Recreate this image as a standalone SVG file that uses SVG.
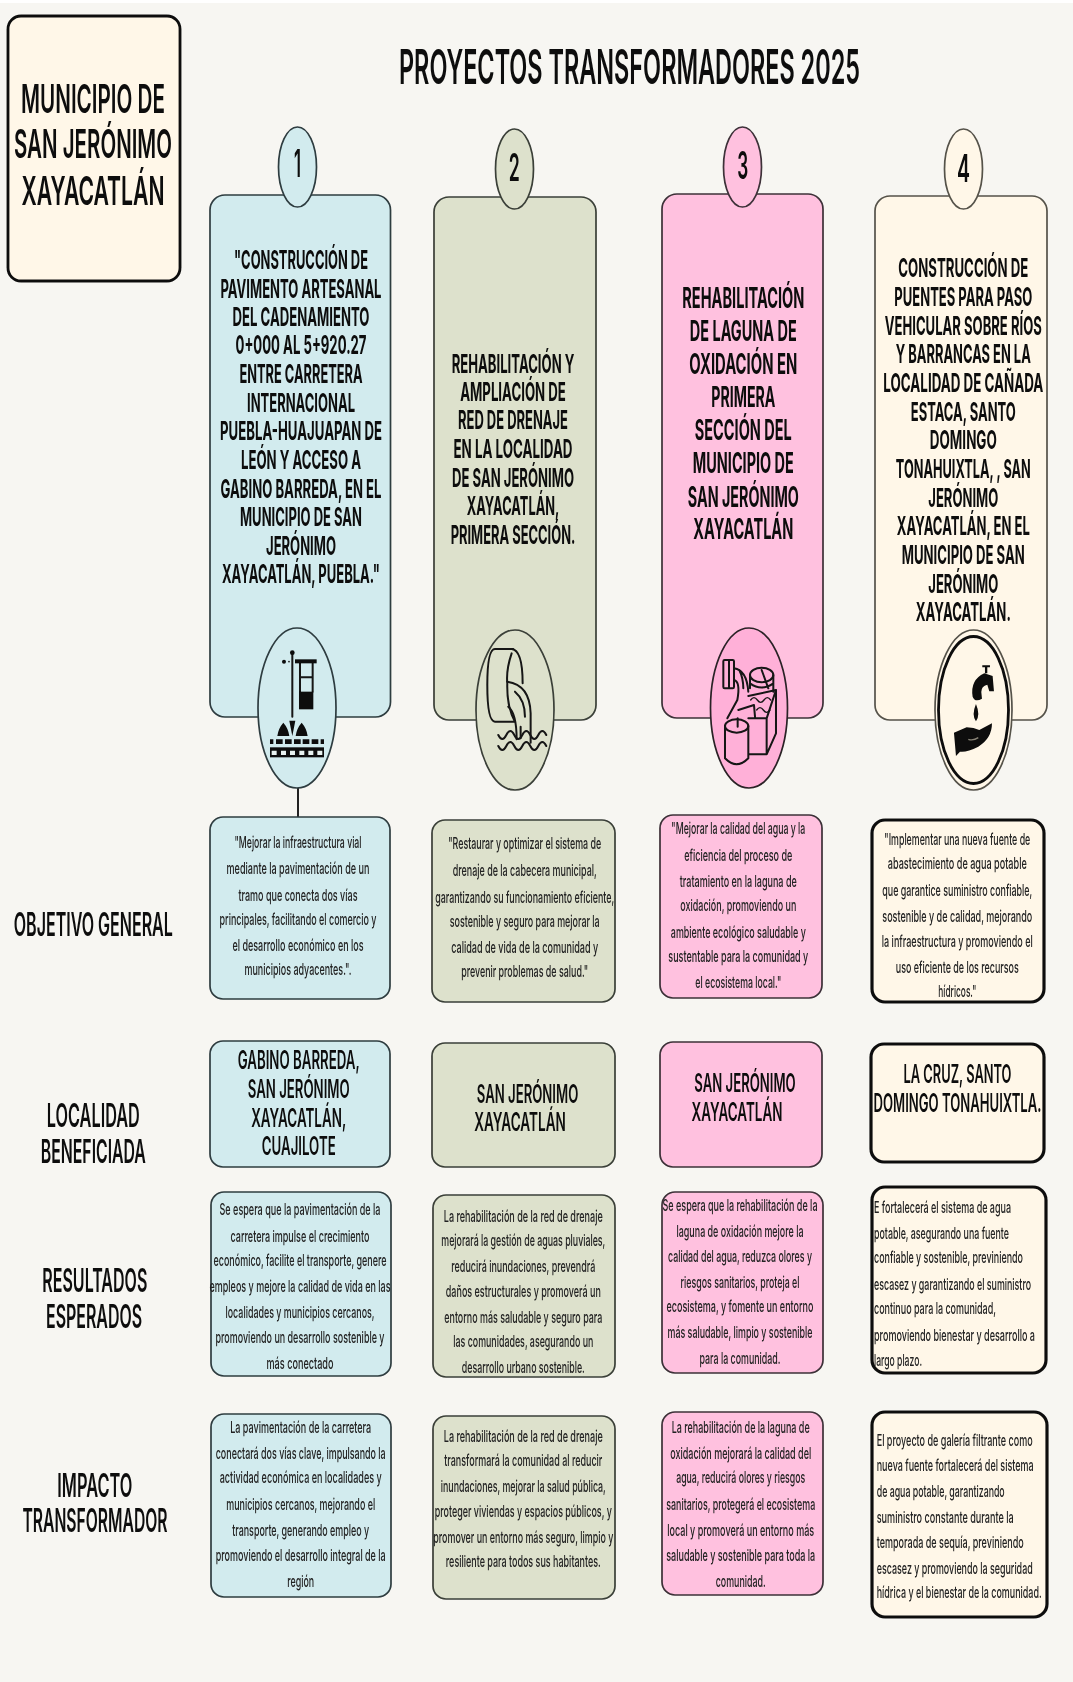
<svg xmlns="http://www.w3.org/2000/svg" width="1073" height="1682" viewBox="0 0 1073 1682">
<style>
text{font-family:"Inter","Liberation Sans",sans-serif;fill:#0c0c0c;text-anchor:middle}
.l{text-anchor:start}
.ttl{font-size:48px;font-weight:600}
.mun{font-size:40px;font-weight:600}
.num{font-size:38px;font-weight:600}
.lab{font-size:32px;font-weight:600}
.h26{font-size:26px;font-weight:700}
.h28{font-size:28px;font-weight:700}
.loc{font-size:25px;font-weight:600}
.s{font-size:16.5px;font-weight:500;fill:#222}
.b{fill:#D2EBEE;stroke:#2E3C40;stroke-width:1.7}
.g{fill:#DDE1CC;stroke:#3A3F38;stroke-width:1.7}
.p{fill:#FFC1DF;stroke:#3C3038;stroke-width:1.7}
.c{fill:#FFF7E8;stroke:#55524A;stroke-width:1.7}
.k{fill:#FFF7E8;stroke:#111;stroke-width:3.2}
.ic{fill:none;stroke:#151515;stroke-width:6;stroke-linecap:round;stroke-linejoin:round}
.blk{fill:#0c0c0c;stroke:none}
</style>
<defs><filter id="soft" x="0" y="0" width="100%" height="100%" filterUnits="objectBoundingBox"><feGaussianBlur stdDeviation="0.5"/></filter></defs>
<rect width="1073" height="1682" fill="#F7F6F2"/>
<rect width="1073" height="3" fill="#FFFFFF"/>
<g id="lamina" filter="url(#soft)">
<rect width="1073" height="1682" fill="none"/>

<g id="connectors"><line x1="298" y1="788" x2="298" y2="818" stroke="#222" stroke-width="2"/></g>

<g id="municipio">
<rect x="8" y="16" width="172" height="265" rx="13" fill="#FFF7E8" stroke="#111" stroke-width="2.8"/>
<text class="mun" x="93" y="112.7" textLength="144" lengthAdjust="spacingAndGlyphs">MUNICIPIO DE</text>
<text class="mun" x="93" y="158.3" textLength="158" lengthAdjust="spacingAndGlyphs">SAN JERÓNIMO</text>
<text class="mun" x="93" y="205" textLength="143" lengthAdjust="spacingAndGlyphs">XAYACATLÁN</text>
</g>
<g id="titulo"><text class="ttl" x="629.5" y="84" textLength="461" lengthAdjust="spacingAndGlyphs">PROYECTOS TRANSFORMADORES 2025</text></g>

<g id="etiquetas">
<text class="lab" x="93.3" y="935.7" textLength="159" lengthAdjust="spacingAndGlyphs">OBJETIVO GENERAL</text>
<text class="lab" x="93.3" y="1127.3" textLength="93" lengthAdjust="spacingAndGlyphs">LOCALIDAD</text>
<text class="lab" x="93.3" y="1162.7" textLength="105" lengthAdjust="spacingAndGlyphs">BENEFICIADA</text>
<text class="lab" x="94.8" y="1292" textLength="105" lengthAdjust="spacingAndGlyphs">RESULTADOS</text>
<text class="lab" x="94" y="1328" textLength="96" lengthAdjust="spacingAndGlyphs">ESPERADOS</text>
<text class="lab" x="94.8" y="1496.7" textLength="75" lengthAdjust="spacingAndGlyphs">IMPACTO</text>
<text class="lab" x="95" y="1531.7" textLength="145" lengthAdjust="spacingAndGlyphs">TRANSFORMADOR</text>
</g>

<g id="proyecto-1">
<rect class="b" x="210" y="195" width="180.5" height="522" rx="15"/>
<ellipse class="b" cx="297.5" cy="167" rx="19" ry="40"/>
<text class="num" x="297.5" y="176.7" textLength="7" lengthAdjust="spacingAndGlyphs">1</text>
<text class="h26" x="301" y="269" textLength="134" lengthAdjust="spacingAndGlyphs">"CONSTRUCCIÓN DE</text>
<text class="h26" x="301" y="297.7" textLength="161" lengthAdjust="spacingAndGlyphs">PAVIMENTO ARTESANAL</text>
<text class="h26" x="301" y="326" textLength="137" lengthAdjust="spacingAndGlyphs">DEL CADENAMIENTO</text>
<text class="h26" x="301" y="354.3" textLength="131" lengthAdjust="spacingAndGlyphs">0+000 AL 5+920.27</text>
<text class="h26" x="301" y="383" textLength="123" lengthAdjust="spacingAndGlyphs">ENTRE CARRETERA</text>
<text class="h26" x="301" y="412" textLength="108" lengthAdjust="spacingAndGlyphs">INTERNACIONAL</text>
<text class="h26" x="301" y="440.3" textLength="162" lengthAdjust="spacingAndGlyphs">PUEBLA-HUAJUAPAN DE</text>
<text class="h26" x="301" y="468.7" textLength="120" lengthAdjust="spacingAndGlyphs">LEÓN Y ACCESO A</text>
<text class="h26" x="301" y="497.7" textLength="161" lengthAdjust="spacingAndGlyphs">GABINO BARREDA, EN EL</text>
<text class="h26" x="301" y="526" textLength="122" lengthAdjust="spacingAndGlyphs">MUNICIPIO DE SAN</text>
<text class="h26" x="301" y="555" textLength="70" lengthAdjust="spacingAndGlyphs">JERÓNIMO</text>
<text class="h26" x="301" y="583.3" textLength="158" lengthAdjust="spacingAndGlyphs">XAYACATLÁN, PUEBLA."</text>
<ellipse class="b" cx="297" cy="708" rx="39" ry="80"/>
<g transform="translate(200 620) scale(.3333)">
<path class="ic" d="M277 100V290M300 130V215M338 130V215M300 172H338"/>
<circle class="blk" cx="277" cy="98" r="7"/><circle class="blk" cx="252" cy="125" r="6"/><circle class="blk" cx="267" cy="125" r="2.5"/>
<rect class="blk" x="285" y="118" width="65" height="12"/><rect class="blk" x="297" y="215" width="43" height="53"/>
<path class="blk" d="M232 348Q235 325 250 308Q265 325 268 348ZM287 348Q290 325 305 308Q320 325 323 348ZM268 302H286L277 348Z"/>
<path class="blk" d="M210 358h10v14h-10zM228 358h20v14h-20zM255 358h20v14h-20zM282 358h20v14h-20zM308 358h20v14h-20zM335 358h20v14h-20zM362 358h10v14h-10z"/>
<rect class="blk" x="210" y="382" width="162" height="30"/>
<path fill="#E8F2F0" d="M215 392h15v13h-15zM243 392h15v13h-15zM270 392h15v13h-15zM298 392h15v13h-15zM325 392h15v13h-15zM352 392h15v13h-15z"/>
</g>
<rect class="b" x="210" y="817" width="180" height="182" rx="13"/>
<text class="s" x="298" y="847.7" textLength="127" lengthAdjust="spacingAndGlyphs">"Mejorar la infraestructura vial</text>
<text class="s" x="298" y="874.3" textLength="143" lengthAdjust="spacingAndGlyphs">mediante la pavimentación de un</text>
<text class="s" x="298" y="900.7" textLength="119" lengthAdjust="spacingAndGlyphs">tramo que conecta dos vías</text>
<text class="s" x="298" y="924.7" textLength="157" lengthAdjust="spacingAndGlyphs">principales, facilitando el comercio y</text>
<text class="s" x="298" y="951" textLength="131" lengthAdjust="spacingAndGlyphs">el desarrollo económico en los</text>
<text class="s" x="298" y="975.3" textLength="107" lengthAdjust="spacingAndGlyphs">municipios adyacentes.".</text>
<rect class="b" x="210" y="1041" width="180" height="126" rx="13"/>
<text class="loc" x="298.7" y="1069.3" textLength="122" lengthAdjust="spacingAndGlyphs">GABINO BARREDA,</text>
<text class="loc" x="298.7" y="1098.3" textLength="102" lengthAdjust="spacingAndGlyphs">SAN JERÓNIMO</text>
<text class="loc" x="298.7" y="1126.7" textLength="95" lengthAdjust="spacingAndGlyphs">XAYACATLÁN,</text>
<text class="loc" x="298.7" y="1155" textLength="74" lengthAdjust="spacingAndGlyphs">CUAJILOTE</text>
<rect class="b" x="211" y="1192" width="180" height="184" rx="13"/>
<text class="s" x="300" y="1215" textLength="161" lengthAdjust="spacingAndGlyphs">Se espera que la pavimentación de la</text>
<text class="s" x="300" y="1241.7" textLength="139" lengthAdjust="spacingAndGlyphs">carretera impulse el crecimiento</text>
<text class="s" x="300" y="1266" textLength="173" lengthAdjust="spacingAndGlyphs">económico, facilite el transporte, genere</text>
<text class="s" x="300" y="1292.3" textLength="181" lengthAdjust="spacingAndGlyphs">empleos y mejore la calidad de vida en las</text>
<text class="s" x="300" y="1318.3" textLength="149" lengthAdjust="spacingAndGlyphs">localidades y municipios cercanos,</text>
<text class="s" x="300" y="1342.7" textLength="169" lengthAdjust="spacingAndGlyphs">promoviendo un desarrollo sostenible y</text>
<text class="s" x="300" y="1369" textLength="67" lengthAdjust="spacingAndGlyphs">más conectado</text>
<rect class="b" x="211" y="1414" width="180" height="183" rx="13"/>
<text class="s" x="300.7" y="1433.3" textLength="141" lengthAdjust="spacingAndGlyphs">La pavimentación de la carretera</text>
<text class="s" x="300.7" y="1459.3" textLength="170" lengthAdjust="spacingAndGlyphs">conectará dos vías clave, impulsando la</text>
<text class="s" x="300.7" y="1483.3" textLength="162" lengthAdjust="spacingAndGlyphs">actividad económica en localidades y</text>
<text class="s" x="300.7" y="1510" textLength="149" lengthAdjust="spacingAndGlyphs">municipios cercanos, mejorando el</text>
<text class="s" x="300.7" y="1536" textLength="137" lengthAdjust="spacingAndGlyphs">transporte, generando empleo y</text>
<text class="s" x="300.7" y="1560.7" textLength="170" lengthAdjust="spacingAndGlyphs">promoviendo el desarrollo integral de la</text>
<text class="s" x="300.7" y="1587.3" textLength="27" lengthAdjust="spacingAndGlyphs">región</text>
</g>

<g id="proyecto-2">
<rect class="g" x="434" y="197" width="162" height="523" rx="15"/>
<ellipse class="g" cx="514.5" cy="169" rx="19" ry="40"/>
<text class="num" x="514.3" y="180.7" textLength="11" lengthAdjust="spacingAndGlyphs">2</text>
<text class="h26" x="513" y="372.7" textLength="122.7" lengthAdjust="spacingAndGlyphs">REHABILITACIÓN Y</text>
<text class="h26" x="513" y="401" textLength="105.7" lengthAdjust="spacingAndGlyphs">AMPLIACIÓN DE</text>
<text class="h26" x="513" y="429.3" textLength="110" lengthAdjust="spacingAndGlyphs">RED DE DRENAJE</text>
<text class="h26" x="513" y="458.3" textLength="119" lengthAdjust="spacingAndGlyphs">EN LA LOCALIDAD</text>
<text class="h26" x="513" y="486.7" textLength="122" lengthAdjust="spacingAndGlyphs">DE SAN JERÓNIMO</text>
<text class="h26" x="513" y="515" textLength="92.7" lengthAdjust="spacingAndGlyphs">XAYACATLÁN,</text>
<text class="h26" x="513" y="544" textLength="124.7" lengthAdjust="spacingAndGlyphs">PRIMERA SECCIÓN.</text>
<ellipse class="g" cx="515" cy="710" rx="39" ry="80"/>
<g transform="translate(200 620) scale(.3333)">
<path class="ic" d="M940 87H885Q862 87 862 195Q862 305 885 305H945M935 87Q968 90 968 190M935 100Q918 150 922 190Q920 260 945 305"/>
<path class="ic" d="M922 185Q990 195 992 280V368M925 260Q950 280 950 358M945 215Q975 240 975 290M962 320V355"/>
<path class="ic" d="M895 345q12 24 24 0t24 0t24 0t24 0t24 0t24 0M895 378q12 24 24 0t24 0t24 0t24 0t24 0t24 0"/>
</g>
<rect class="g" x="432" y="820" width="183" height="182" rx="13"/>
<text class="s" x="524.7" y="849.3" textLength="153" lengthAdjust="spacingAndGlyphs">"Restaurar y optimizar el sistema de</text>
<text class="s" x="524.7" y="876" textLength="144" lengthAdjust="spacingAndGlyphs">drenaje de la cabecera municipal,</text>
<text class="s" x="524.7" y="902.7" textLength="179" lengthAdjust="spacingAndGlyphs">garantizando su funcionamiento eficiente,</text>
<text class="s" x="524.7" y="926.7" textLength="150" lengthAdjust="spacingAndGlyphs">sostenible y seguro para mejorar la</text>
<text class="s" x="524.7" y="952.7" textLength="147" lengthAdjust="spacingAndGlyphs">calidad de vida de la comunidad y</text>
<text class="s" x="524.7" y="977.3" textLength="127" lengthAdjust="spacingAndGlyphs">prevenir problemas de salud."</text>
<rect class="g" x="432" y="1043" width="183" height="124" rx="13"/>
<text class="loc" x="527.5" y="1102.7" textLength="101.6" lengthAdjust="spacingAndGlyphs">SAN JERÓNIMO</text>
<text class="loc" x="520" y="1131" textLength="91.7" lengthAdjust="spacingAndGlyphs">XAYACATLÁN</text>
<rect class="g" x="433" y="1195" width="182" height="182" rx="13"/>
<text class="s" x="523.3" y="1221.7" textLength="159" lengthAdjust="spacingAndGlyphs">La rehabilitación de la red de drenaje</text>
<text class="s" x="523.3" y="1246" textLength="164" lengthAdjust="spacingAndGlyphs">mejorará la gestión de aguas pluviales,</text>
<text class="s" x="523.3" y="1272.3" textLength="144" lengthAdjust="spacingAndGlyphs">reducirá inundaciones, prevendrá</text>
<text class="s" x="523.3" y="1296.7" textLength="155" lengthAdjust="spacingAndGlyphs">daños estructurales y promoverá un</text>
<text class="s" x="523.3" y="1322.7" textLength="158" lengthAdjust="spacingAndGlyphs">entorno más saludable y seguro para</text>
<text class="s" x="523.3" y="1347.3" textLength="140" lengthAdjust="spacingAndGlyphs">las comunidades, asegurando un</text>
<text class="s" x="523.3" y="1373.3" textLength="123" lengthAdjust="spacingAndGlyphs">desarrollo urbano sostenible.</text>
<rect class="g" x="433" y="1416" width="182" height="183" rx="13"/>
<text class="s" x="523.3" y="1441.7" textLength="159" lengthAdjust="spacingAndGlyphs">La rehabilitación de la red de drenaje</text>
<text class="s" x="523.3" y="1466" textLength="158" lengthAdjust="spacingAndGlyphs">transformará la comunidad al reducir</text>
<text class="s" x="523.3" y="1492.3" textLength="165" lengthAdjust="spacingAndGlyphs">inundaciones, mejorar la salud pública,</text>
<text class="s" x="523.3" y="1516.7" textLength="177" lengthAdjust="spacingAndGlyphs">proteger viviendas y espacios públicos, y</text>
<text class="s" x="523.3" y="1542.7" textLength="180" lengthAdjust="spacingAndGlyphs">promover un entorno más seguro, limpio y</text>
<text class="s" x="523.3" y="1567.3" textLength="155" lengthAdjust="spacingAndGlyphs">resiliente para todos sus habitantes.</text>
</g>

<g id="proyecto-3">
<rect class="p" x="662" y="194" width="161" height="524" rx="15"/>
<ellipse class="p" cx="742.5" cy="167" rx="19" ry="40"/>
<text class="num" x="742.7" y="179" textLength="11" lengthAdjust="spacingAndGlyphs">3</text>
<text class="h28" x="743.3" y="308.3" textLength="122" lengthAdjust="spacingAndGlyphs">REHABILITACIÓN</text>
<text class="h28" x="743.3" y="341" textLength="107" lengthAdjust="spacingAndGlyphs">DE LAGUNA DE</text>
<text class="h28" x="743.3" y="374.3" textLength="108" lengthAdjust="spacingAndGlyphs">OXIDACIÓN EN</text>
<text class="h28" x="743.3" y="406.7" textLength="64" lengthAdjust="spacingAndGlyphs">PRIMERA</text>
<text class="h28" x="743.3" y="440" textLength="97" lengthAdjust="spacingAndGlyphs">SECCIÓN DEL</text>
<text class="h28" x="743.3" y="473.3" textLength="101" lengthAdjust="spacingAndGlyphs">MUNICIPIO DE</text>
<text class="h28" x="743.3" y="506.7" textLength="111" lengthAdjust="spacingAndGlyphs">SAN JERÓNIMO</text>
<text class="h28" x="743.3" y="539.3" textLength="100" lengthAdjust="spacingAndGlyphs">XAYACATLÁN</text>
<ellipse cx="749" cy="708" rx="38.5" ry="80" fill="#FFB0D8" stroke="#2A2226" stroke-width="1.7"/>
<g transform="translate(650 620) scale(.3333)">
<rect class="ic" x="220" y="120" width="32" height="85" rx="4"/>
<path class="ic" d="M237 122V203M252 145Q290 150 295 215M252 180Q272 185 262 240L232 295M268 150Q280 175 280 205"/>
<path class="ic" d="M300 165V205M370 165V215M335 150L355 205M300 190Q335 215 370 190"/><ellipse class="ic" cx="335" cy="165" rx="35" ry="22"/>
<path class="ic" d="M295 228L378 210V340L350 403H295M350 295V403M350 295L378 210M350 295H295M265 270L312 255L315 290"/>
<path class="ic" style="stroke-width:4" d="M302 240q10 -14 20 0t20 0t20 0M320 270q10 -14 20 0t20 0"/>
<path d="M225 318V415Q260 450 295 415V318Z" fill="#FFB0D8" stroke="none"/>
<path class="ic" d="M225 318V415Q260 450 295 415V318M263 295V320"/><ellipse class="ic" cx="260" cy="318" rx="35" ry="20"/>
</g>
<rect class="p" x="660" y="815" width="162" height="183" rx="13"/>
<text class="s" x="738.3" y="834" textLength="134" lengthAdjust="spacingAndGlyphs">"Mejorar la calidad del agua y la</text>
<text class="s" x="738.3" y="860.7" textLength="108" lengthAdjust="spacingAndGlyphs">eficiencia del proceso de</text>
<text class="s" x="738.3" y="887.3" textLength="117" lengthAdjust="spacingAndGlyphs">tratamiento en la laguna de</text>
<text class="s" x="738.3" y="911.3" textLength="116" lengthAdjust="spacingAndGlyphs">oxidación, promoviendo un</text>
<text class="s" x="738.3" y="937.7" textLength="135" lengthAdjust="spacingAndGlyphs">ambiente ecológico saludable y</text>
<text class="s" x="738.3" y="962" textLength="140" lengthAdjust="spacingAndGlyphs">sustentable para la comunidad y</text>
<text class="s" x="738.3" y="988.3" textLength="86" lengthAdjust="spacingAndGlyphs">el ecosistema local."</text>
<rect class="p" x="660" y="1042" width="162" height="125" rx="13"/>
<text class="loc" x="745" y="1092.3" textLength="101.4" lengthAdjust="spacingAndGlyphs">SAN JERÓNIMO</text>
<text class="loc" x="737" y="1120.7" textLength="91" lengthAdjust="spacingAndGlyphs">XAYACATLÁN</text>
<rect class="p" x="662" y="1192" width="161" height="181" rx="13"/>
<text class="s" x="740" y="1210.7" textLength="155" lengthAdjust="spacingAndGlyphs">Se espera que la rehabilitación de la</text>
<text class="s" x="740" y="1237.3" textLength="127" lengthAdjust="spacingAndGlyphs">laguna de oxidación mejore la</text>
<text class="s" x="740" y="1261.7" textLength="144" lengthAdjust="spacingAndGlyphs">calidad del agua, reduzca olores y</text>
<text class="s" x="740" y="1287.7" textLength="119" lengthAdjust="spacingAndGlyphs">riesgos sanitarios, proteja el</text>
<text class="s" x="740" y="1312.3" textLength="147" lengthAdjust="spacingAndGlyphs">ecosistema, y fomente un entorno</text>
<text class="s" x="740" y="1338.3" textLength="145" lengthAdjust="spacingAndGlyphs">más saludable, limpio y sostenible</text>
<text class="s" x="740" y="1364.3" textLength="81" lengthAdjust="spacingAndGlyphs">para la comunidad.</text>
<rect class="p" x="662" y="1412" width="161" height="183" rx="13"/>
<text class="s" x="740.7" y="1433.3" textLength="138" lengthAdjust="spacingAndGlyphs">La rehabilitación de la laguna de</text>
<text class="s" x="740.7" y="1459.3" textLength="141" lengthAdjust="spacingAndGlyphs">oxidación mejorará la calidad del</text>
<text class="s" x="740.7" y="1483.3" textLength="129" lengthAdjust="spacingAndGlyphs">agua, reducirá olores y riesgos</text>
<text class="s" x="740.7" y="1510" textLength="149" lengthAdjust="spacingAndGlyphs">sanitarios, protegerá el ecosistema</text>
<text class="s" x="740.7" y="1536" textLength="147" lengthAdjust="spacingAndGlyphs">local y promoverá un entorno más</text>
<text class="s" x="740.7" y="1560.7" textLength="149" lengthAdjust="spacingAndGlyphs">saludable y sostenible para toda la</text>
<text class="s" x="740.7" y="1587" textLength="50" lengthAdjust="spacingAndGlyphs">comunidad.</text>
</g>

<g id="proyecto-4">
<rect class="c" x="875" y="196" width="172" height="524" rx="15"/>
<ellipse class="c" cx="963.5" cy="169" rx="19" ry="40"/>
<text class="num" x="963.5" y="182" textLength="13" lengthAdjust="spacingAndGlyphs">4</text>
<text class="h26" x="963.3" y="277.3" textLength="130" lengthAdjust="spacingAndGlyphs">CONSTRUCCIÓN DE</text>
<text class="h26" x="963.3" y="306" textLength="138" lengthAdjust="spacingAndGlyphs">PUENTES PARA PASO</text>
<text class="h26" x="963.3" y="335" textLength="157" lengthAdjust="spacingAndGlyphs">VEHICULAR SOBRE RÍOS</text>
<text class="h26" x="963.3" y="363.3" textLength="135" lengthAdjust="spacingAndGlyphs">Y BARRANCAS EN LA</text>
<text class="h26" x="963.3" y="392.3" textLength="160" lengthAdjust="spacingAndGlyphs">LOCALIDAD DE CAÑADA</text>
<text class="h26" x="963.3" y="420.7" textLength="105" lengthAdjust="spacingAndGlyphs">ESTACA, SANTO</text>
<text class="h26" x="963.3" y="449.3" textLength="67" lengthAdjust="spacingAndGlyphs">DOMINGO</text>
<text class="h26" x="963.3" y="478" textLength="135" lengthAdjust="spacingAndGlyphs">TONAHUIXTLA, , SAN</text>
<text class="h26" x="963.3" y="506.7" textLength="70" lengthAdjust="spacingAndGlyphs">JERÓNIMO</text>
<text class="h26" x="963.3" y="535" textLength="133" lengthAdjust="spacingAndGlyphs">XAYACATLÁN, EN EL</text>
<text class="h26" x="963.3" y="564" textLength="123" lengthAdjust="spacingAndGlyphs">MUNICIPIO DE SAN</text>
<text class="h26" x="963.3" y="592.7" textLength="70" lengthAdjust="spacingAndGlyphs">JERÓNIMO</text>
<text class="h26" x="963.3" y="620.7" textLength="95" lengthAdjust="spacingAndGlyphs">XAYACATLÁN.</text>
<ellipse class="c" cx="973.5" cy="710" rx="38.5" ry="80"/>
<ellipse cx="973.5" cy="710" rx="35" ry="73.5" fill="#FFF7E8" stroke="#0c0c0c" stroke-width="2.8"/>
<g transform="translate(650 620) scale(.3333)">
<path class="blk" d="M997 136H1020V142H1012V160H1005V142H997ZM968 230Q960 180 1003 160L1028 168L1032 214H1018L1012 194Q994 198 994 216L996 236Q975 248 968 230ZM978 252Q964 285 978 304Q992 285 978 252ZM912 338L950 322Q972 322 988 330L1026 310Q1026 355 985 380Q950 398 930 395L918 408Z"/>
<path d="M955 358q15 5 30 -5" fill="none" stroke="#8a8578" stroke-width="4"/>
</g>
<rect class="k" x="872" y="820" width="172" height="182" rx="13"/>
<text class="s" x="957.3" y="845" textLength="146" lengthAdjust="spacingAndGlyphs">"Implementar una nueva fuente de</text>
<text class="s" x="957.3" y="869.3" textLength="139" lengthAdjust="spacingAndGlyphs">abastecimiento de agua potable</text>
<text class="s" x="957.3" y="896" textLength="150" lengthAdjust="spacingAndGlyphs">que garantice suministro confiable,</text>
<text class="s" x="957.3" y="922.3" textLength="150" lengthAdjust="spacingAndGlyphs">sostenible y de calidad, mejorando</text>
<text class="s" x="957.3" y="946.7" textLength="151" lengthAdjust="spacingAndGlyphs">la infraestructura y promoviendo el</text>
<text class="s" x="957.3" y="972.7" textLength="123" lengthAdjust="spacingAndGlyphs">uso eficiente de los recursos</text>
<text class="s" x="957.3" y="997.3" textLength="38" lengthAdjust="spacingAndGlyphs">hídricos."</text>
<rect class="k" x="871" y="1044" width="173" height="118" rx="13"/>
<text class="loc" x="957.5" y="1083.3" textLength="108" lengthAdjust="spacingAndGlyphs">LA CRUZ, SANTO</text>
<text class="loc" x="957.5" y="1111.7" textLength="168" lengthAdjust="spacingAndGlyphs">DOMINGO TONAHUIXTLA.</text>
<rect class="k" x="872" y="1187" width="174" height="186" rx="13"/>
<text class="s l" x="874" y="1212.7" textLength="137" lengthAdjust="spacingAndGlyphs">E fortalecerá el sistema de agua</text>
<text class="s l" x="874" y="1239.3" textLength="135" lengthAdjust="spacingAndGlyphs">potable, asegurando una fuente</text>
<text class="s l" x="874" y="1263.3" textLength="149" lengthAdjust="spacingAndGlyphs">confiable y sostenible, previniendo</text>
<text class="s l" x="874" y="1290" textLength="157" lengthAdjust="spacingAndGlyphs">escasez y garantizando el suministro</text>
<text class="s l" x="874" y="1314.3" textLength="122" lengthAdjust="spacingAndGlyphs">continuo para la comunidad,</text>
<text class="s l" x="874" y="1340.7" textLength="161" lengthAdjust="spacingAndGlyphs">promoviendo bienestar y desarrollo a</text>
<text class="s l" x="874" y="1366" textLength="48" lengthAdjust="spacingAndGlyphs">largo plazo.</text>
<rect class="k" x="872" y="1412" width="175" height="205" rx="13"/>
<text class="s l" x="876.7" y="1446" textLength="156" lengthAdjust="spacingAndGlyphs">El proyecto de galería filtrante como</text>
<text class="s l" x="876.7" y="1470.7" textLength="157" lengthAdjust="spacingAndGlyphs">nueva fuente fortalecerá del sistema</text>
<text class="s l" x="876.7" y="1496.7" textLength="128" lengthAdjust="spacingAndGlyphs">de agua potable, garantizando</text>
<text class="s l" x="876.7" y="1523.3" textLength="137" lengthAdjust="spacingAndGlyphs">suministro constante durante la</text>
<text class="s l" x="876.7" y="1547.7" textLength="147" lengthAdjust="spacingAndGlyphs">temporada de sequía, previniendo</text>
<text class="s l" x="876.7" y="1574" textLength="156" lengthAdjust="spacingAndGlyphs">escasez y promoviendo la seguridad</text>
<text class="s l" x="876.7" y="1598.3" textLength="165" lengthAdjust="spacingAndGlyphs">hídrica y el bienestar de la comunidad.</text>
</g>
</g>
</svg>
